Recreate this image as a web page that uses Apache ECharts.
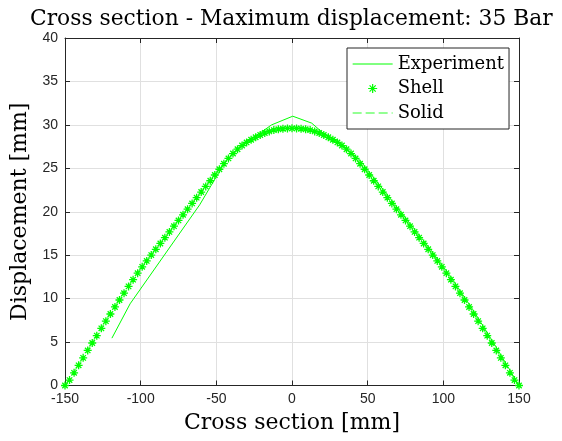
<!DOCTYPE html>
<html><head><meta charset="utf-8">
<script src="https://cdn.jsdelivr.net/npm/echarts@6/dist/echarts.min.js"></script>
<style>html,body{margin:0;padding:0;background:#fff}#c{width:562px;height:441px}</style>
</head><body><div id="c"></div>
<script>
const titleText = 'Cross section - Maximum displacement: 35 Bar';
const xName = 'Cross section [mm]';
const yName = 'Displacement [mm]';
const legendNames = ['Experiment', 'Shell', 'Solid'];

const expX = [-119, -107, -61, -44, -30, -20, -13.5, 0.5, 13, 21, 30, 45, 60, 75, 90, 105, 120, 135, 150];
const expY = [5.45, 9.4, 20.8, 25.8, 28.1, 29.2, 30.0, 31.0, 30.2, 29.0, 28.2, 25.9, 22.6, 19.3, 16.0, 12.5, 8.6, 4.4, 0];

const shellX = [-150, -147, -144, -141, -138, -135, -132, -129, -126, -123, -120, -117, -114, -111, -108, -105, -102, -99, -96, -93, -90, -87, -84, -81, -78, -75, -72, -69, -66, -63, -60, -57, -54, -51, -48, -45, -42, -39, -36, -33, -30, -27, -24, -21, -18, -15, -12, -9, -6, -3, 0, 3, 6, 9, 12, 15, 18, 21, 24, 27, 30, 33, 36, 39, 42, 45, 48, 51, 54, 57, 60, 63, 66, 69, 72, 75, 78, 81, 84, 87, 90, 93, 96, 99, 102, 105, 108, 111, 114, 117, 120, 123, 126, 129, 132, 135, 138, 141, 144, 147, 150];
const shellY = [0, 0.62, 1.46, 2.32, 3.18, 4.04, 4.89, 5.74, 6.58, 7.41, 8.23, 9.04, 9.84, 10.63, 11.41, 12.18, 12.93, 13.66, 14.34, 15.01, 15.68, 16.35, 17.02, 17.68, 18.34, 19.00, 19.65, 20.30, 20.96, 21.62, 22.27, 22.92, 23.57, 24.23, 24.89, 25.53, 26.14, 26.70, 27.20, 27.62, 27.98, 28.29, 28.57, 28.83, 29.06, 29.25, 29.40, 29.50, 29.56, 29.59, 29.60, 29.59, 29.56, 29.50, 29.40, 29.25, 29.06, 28.83, 28.57, 28.29, 27.98, 27.62, 27.20, 26.70, 26.14, 25.53, 24.89, 24.23, 23.57, 22.92, 22.27, 21.62, 20.96, 20.30, 19.65, 19.00, 18.34, 17.68, 17.02, 16.35, 15.68, 15.01, 14.34, 13.66, 12.93, 12.18, 11.41, 10.63, 9.84, 9.04, 8.23, 7.41, 6.58, 5.74, 4.89, 4.04, 3.18, 2.32, 1.46, 0.62, 0];

const solidX = [-150, -140, -130, -120, -110, -100, -90, -80, -70, -60, -50, -40, -30, -20, -10, 0, 10, 20, 30, 40, 50, 60, 70, 80, 90, 100, 110, 120, 130, 140, 150];
const solidY = [0, 2.65, 5.5, 8.3, 10.95, 13.5, 15.75, 17.95, 20.15, 22.35, 24.5, 26.6, 28.05, 28.95, 29.5, 29.65, 29.5, 28.95, 28.05, 26.6, 24.5, 22.35, 20.15, 17.95, 15.75, 13.5, 10.95, 8.3, 5.5, 2.65, 0];

const zip = (xs, ys) => xs.map((x, i) => [x, ys[i]]);
const axisColor = '#262626';
const serif = 'DejaVu Serif';
const sans = 'Liberation Sans';
const star = 'path://M0,5L10,5M5,0L5,10M1.6,1.6L8.4,8.4M8.4,1.6L1.6,8.4';
const green = '#00ff00';
const lightGreen = '#70ff70';

const chart = echarts.init(document.getElementById('c'), null, {renderer: 'canvas'});

function xAx(pos, main) {
  return {
    type: 'value', min: -150, max: 150, interval: 50, position: pos,
    axisLine: {show: true, onZero: false, lineStyle: {color: axisColor, width: 1}},
    axisTick: {show: true, inside: true, length: 5, lineStyle: {color: axisColor}},
    axisLabel: {show: main, color: axisColor, fontFamily: sans, fontSize: 14, margin: 7},
    splitLine: {show: main, lineStyle: {color: '#e0e0e0', width: 1}},
    name: main ? xName : '', nameLocation: 'middle', nameGap: 27,
    nameTextStyle: {fontFamily: serif, fontSize: 22, color: '#000'}
  };
}
function yAx(pos, main) {
  return {
    type: 'value', min: 0, max: 40, interval: 5, position: pos,
    axisLine: {show: true, onZero: false, lineStyle: {color: axisColor, width: 1}},
    axisTick: {show: true, inside: true, length: 5, lineStyle: {color: axisColor}},
    axisLabel: {show: main, color: axisColor, fontFamily: sans, fontSize: 14, margin: 7},
    splitLine: {show: main, lineStyle: {color: '#e0e0e0', width: 1}},
    name: main ? yName : '', nameLocation: 'middle', nameGap: 23,
    nameTextStyle: {fontFamily: serif, fontSize: 22, color: '#000'}
  };
}

const option = {
  animation: false,
  backgroundColor: '#fff',
  title: {
    text: titleText, left: 25, top: 3,
    textStyle: {fontFamily: serif, fontSize: 21.8, fontWeight: 'normal', color: '#000'}
  },
  grid: {left: 65, top: 38, right: 43, bottom: 55.5, containLabel: false},
  legend: {
    data: [
      {name: legendNames[0], itemStyle: {opacity: 0}, lineStyle: {color: green, width: 1, type: 'solid'}},
      {name: legendNames[1], icon: star, itemStyle: {color: green, borderColor: green, borderWidth: 1.2}},
      {name: legendNames[2], itemStyle: {opacity: 0}, lineStyle: {color: lightGreen, width: 1.3, type: [9, 4]}}
    ],
    orient: 'vertical', left: 347, top: 48,
    backgroundColor: '#fff', borderColor: axisColor, borderWidth: 1,
    padding: [7, 5, 7, 5], itemWidth: 40, itemHeight: 9, itemGap: 6.5, align: 'left',
    symbolKeepAspect: true,
    textStyle: {fontFamily: serif, fontSize: 18, color: '#000'}
  },
  xAxis: [xAx('bottom', true), xAx('top', false)],
  yAxis: [yAx('left', true), yAx('right', false)],
  series: [
    {name: 'Solid', type: 'line', data: zip(solidX, solidY), symbol: 'none',
     lineStyle: {color: lightGreen, width: 1.3, type: [9, 4]}, itemStyle: {color: lightGreen}, z: 1},
    {name: 'Shell', type: 'line', data: zip(shellX, shellY), symbol: star, symbolSize: 8,
     lineStyle: {width: 0, opacity: 0},
     itemStyle: {color: green, borderColor: green, borderWidth: 1.3}, z: 2},
    {name: 'Experiment', type: 'line', data: zip(expX, expY), symbol: 'none',
     lineStyle: {color: green, width: 1}, itemStyle: {color: green}, z: 3}
  ]
};
chart.setOption(option);
</script></body></html>
